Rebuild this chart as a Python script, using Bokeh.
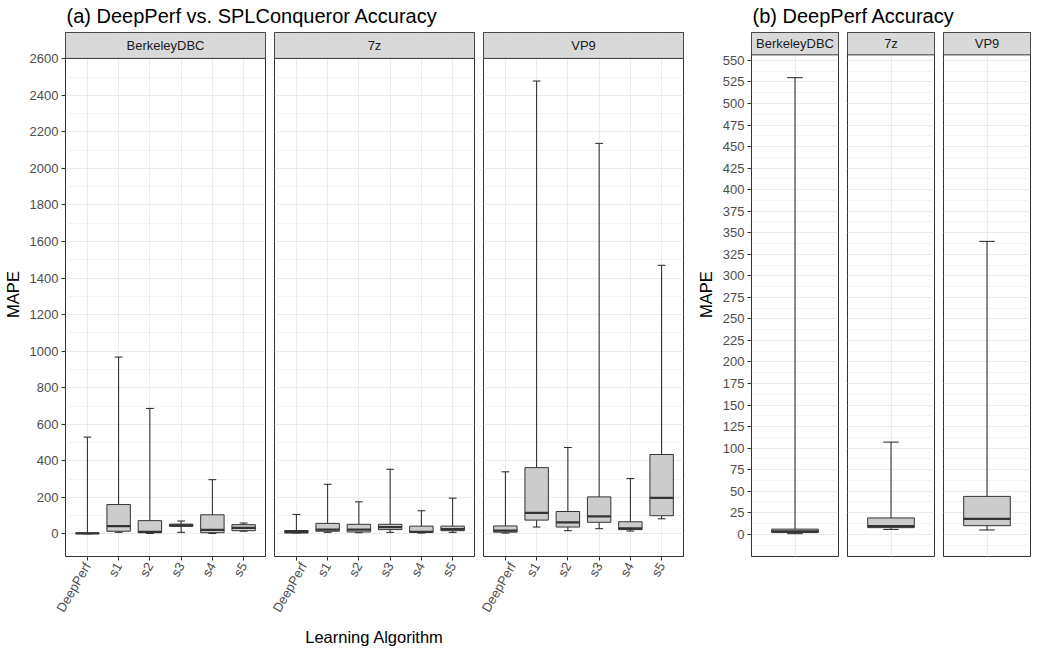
import math
from bokeh.plotting import figure
from bokeh.models import Range1d, FactorRange, FixedTicker, BoxAnnotation, Label, ColumnDataSource
from bokeh.transform import dodge
from bokeh.layouts import row, column
from bokeh.embed import file_html
from bokeh.resources import INLINE

# ---------------- data ----------------
algorithms = ["DeepPerf", "s1", "s2", "s3", "s4", "s5"]
systems = ["BerkeleyDBC", "7z", "VP9"]

# BerkeleyDBC (lower whisker, Q1, median, Q3, upper whisker)
bdb_lower = [0.7, 9, 3, 9, 3, 15]
bdb_q1 = [2, 15, 7, 42, 7, 18]
bdb_median = [3.5, 43, 12, 47, 22, 33]
bdb_q3 = [6, 161, 73, 54, 105, 51]
bdb_upper = [530, 968, 687, 71, 297, 60]

# 7z
z7_lower = [5.7, 9, 7, 9, 5, 9]
z7_q1 = [7.7, 15, 11, 24, 9, 18]
z7_median = [9.4, 24, 24, 38, 12, 27]
z7_q3 = [19, 58, 53, 53, 43, 43]
z7_upper = [107, 272, 176, 354, 127, 196]

# VP9
vp9_lower = [5, 38, 18, 29, 16, 83]
vp9_q1 = [10, 76, 38, 64, 24, 100]
vp9_median = [18, 116, 64, 96, 31, 198]
vp9_q3 = [44, 363, 123, 203, 67, 435]
vp9_upper = [340, 2478, 473, 2137, 303, 1470]

left_ticks = list(range(0, 2601, 200))
left_minor = list(range(-100, 2601, 200))
right_ticks = list(range(0, 551, 25))
right_minor = [t - 12.5 for t in range(0, 576, 25)]

title_a = "(a) DeepPerf vs. SPLConqueror Accuracy"
title_b = "(b) DeepPerf Accuracy"
y_title = "MAPE"
x_title = "Learning Algorithm"

stats = {
    "BerkeleyDBC": (bdb_lower, bdb_q1, bdb_median, bdb_q3, bdb_upper),
    "7z": (z7_lower, z7_q1, z7_median, z7_q3, z7_upper),
    "VP9": (vp9_lower, vp9_q1, vp9_median, vp9_q3, vp9_upper),
}

# ---------------- style ----------------
FONT = "Liberation Sans"
BORDER = "#333333"
GRID = "#EBEBEB"
STRIP = "#D9D9D9"
BOXFILL = "#CCCCCC"
TICKTXT = "#4D4D4D"
HEADER_PX = 26
PAD = 0.2  # total absolute padding of the factor range (0.1 each side)
FIG_H = 617


def expand(lo, hi):
    pad = 0.05 * (hi - lo)
    return lo - pad, hi + pad


def make_facet(system, cats, st, y0, y1, panel_px, ticks, minor,
               frame_w, b_left, b_right, show_x, show_y, xlabel=None, ylabel=None,
               ylabel_standoff=5):
    lower, q1, med, q3, upper = st
    upp = (y1 - y0) / panel_px
    y_end = y1 + HEADER_PX * upp
    frame_h = panel_px + HEADER_PX
    b_bottom = FIG_H - 1 - frame_h
    p = figure(width=b_left + frame_w + b_right, height=FIG_H,
               x_range=FactorRange(factors=cats, range_padding=PAD, range_padding_units="absolute"),
               y_range=Range1d(y0, y_end),
               x_axis_location="below" if show_x else None,
               y_axis_location="left" if show_y else None,
               toolbar_location=None, tools="", output_backend="svg")
    p.min_border_left = b_left
    p.min_border_right = b_right
    p.min_border_top = 1
    p.min_border_bottom = b_bottom
    p.background_fill_color = "white"
    p.border_fill_color = "white"
    p.outline_line_color = BORDER
    p.outline_line_width = 1

    p.xgrid.grid_line_color = GRID
    p.xgrid.grid_line_width = 1.1
    p.ygrid.ticker = FixedTicker(ticks=ticks, minor_ticks=minor)
    p.ygrid.grid_line_color = GRID
    p.ygrid.grid_line_width = 1.1
    p.ygrid.minor_grid_line_color = GRID
    p.ygrid.minor_grid_line_width = 0.55

    if show_y:
        ax = p.yaxis[0]
        ax.ticker = FixedTicker(ticks=ticks)
        ax.axis_line_color = None
        ax.major_tick_line_color = BORDER
        ax.major_tick_in = 0
        ax.major_tick_out = 4
        ax.minor_tick_line_color = None
        ax.major_label_standoff = 3
        ax.major_label_text_font = FONT
        ax.major_label_text_font_size = "13px"
        ax.major_label_text_color = TICKTXT
        if ylabel:
            ax.axis_label = ylabel
            ax.axis_label_text_font = FONT
            ax.axis_label_text_font_size = "16.5px"
            ax.axis_label_text_font_style = "normal"
            ax.axis_label_text_color = "black"
            ax.axis_label_standoff = ylabel_standoff
    if show_x:
        ax = p.xaxis[0]
        ax.axis_line_color = None
        ax.major_tick_line_color = BORDER
        ax.major_tick_in = 0
        ax.major_tick_out = 4
        ax.minor_tick_line_color = None
        ax.major_label_standoff = 3
        ax.major_label_orientation = math.pi / 3
        ax.major_label_text_font = FONT
        ax.major_label_text_font_size = "13px"
        ax.major_label_text_color = TICKTXT
        if xlabel:
            ax.axis_label = xlabel
            ax.axis_label_text_font = FONT
            ax.axis_label_text_font_size = "16.5px"
            ax.axis_label_text_font_style = "normal"
            ax.axis_label_text_color = "black"
            ax.axis_label_standoff = 6

    src = ColumnDataSource(dict(cat=cats, lower=lower, q1=q1, med=med, q3=q3, upper=upper))
    wc = "#222222"
    p.segment(x0="cat", x1="cat", y0="q3", y1="upper", source=src, line_color=wc, line_width=1)
    p.segment(x0="cat", x1="cat", y0="lower", y1="q1", source=src, line_color=wc, line_width=1)
    p.segment(x0=dodge("cat", -0.125, range=p.x_range), x1=dodge("cat", 0.125, range=p.x_range),
              y0="upper", y1="upper", source=src, line_color=wc, line_width=1)
    p.segment(x0=dodge("cat", -0.125, range=p.x_range), x1=dodge("cat", 0.125, range=p.x_range),
              y0="lower", y1="lower", source=src, line_color=wc, line_width=1)
    p.vbar(x="cat", width=0.75, bottom="q1", top="q3", source=src,
           fill_color=BOXFILL, line_color=BORDER, line_width=1)
    p.segment(x0=dodge("cat", -0.375, range=p.x_range), x1=dodge("cat", 0.375, range=p.x_range),
              y0="med", y1="med", source=src, line_color=BORDER, line_width=2.3)

    # strip header
    p.add_layout(BoxAnnotation(bottom=y1, fill_color=STRIP, fill_alpha=1,
                               line_color=BORDER, line_width=1, line_alpha=1))
    p.add_layout(Label(x=len(cats) / 2, y=(y1 + y_end) / 2, text=system,
                       text_align="center", text_baseline="middle",
                       text_font=FONT, text_font_size="13px", text_color="#1A1A1A"))
    return p


# left group
all_low = bdb_lower + z7_lower + vp9_lower
all_up = bdb_upper + z7_upper + vp9_upper
ly0, ly1 = expand(min(all_low), max(all_up))
LEFT_PANEL = 500
left_figs = []
for i, s in enumerate(systems):
    b_left = 65 if i == 0 else 5
    f = make_facet(s, algorithms, stats[s], ly0, ly1, LEFT_PANEL, left_ticks, left_minor,
                   200, b_left, 4, True, i == 0,
                   xlabel=x_title if i == 1 else None,
                   ylabel=y_title if i == 0 else None, ylabel_standoff=5)
    left_figs.append(f)

# right group (DeepPerf only)
r_low = [stats[s][0][0] for s in systems]
r_up = [stats[s][4][0] for s in systems]
ry0, ry1 = expand(min(r_low), max(r_up))
RIGHT_PANEL = 583
right_figs = []
for i, s in enumerate(systems):
    st = tuple([arr[0]] for arr in stats[s])
    b_left = 64 if i == 0 else 5
    b_right = 8 if i == 2 else 4
    f = make_facet(s, algorithms[:1], st, ry0, ry1, RIGHT_PANEL, right_ticks, right_minor,
                   87, b_left, b_right, False, i == 0,
                   ylabel=y_title if i == 0 else None, ylabel_standoff=5)
    right_figs.append(f)

# title strip
TITLE_H = 31
TITLE_Y = 16
T = figure(width=1038, height=TITLE_H, x_range=Range1d(0, 1038), y_range=Range1d(0, TITLE_H),
           x_axis_location=None, y_axis_location=None, toolbar_location=None, tools="",
           output_backend="svg", min_border=0)
T.outline_line_color = None
T.grid.visible = False
T.add_layout(Label(x=66, y=TITLE_Y, text=title_a, text_align="left", text_baseline="alphabetic",
                   text_font=FONT, text_font_size="20px", text_color="black"))
T.add_layout(Label(x=752, y=TITLE_Y, text=title_b, text_align="left", text_baseline="alphabetic",
                   text_font=FONT, text_font_size="20px", text_color="black"))

layout = column(T, row(*left_figs, *right_figs))
open("out.html", "w").write(file_html(layout, INLINE))
